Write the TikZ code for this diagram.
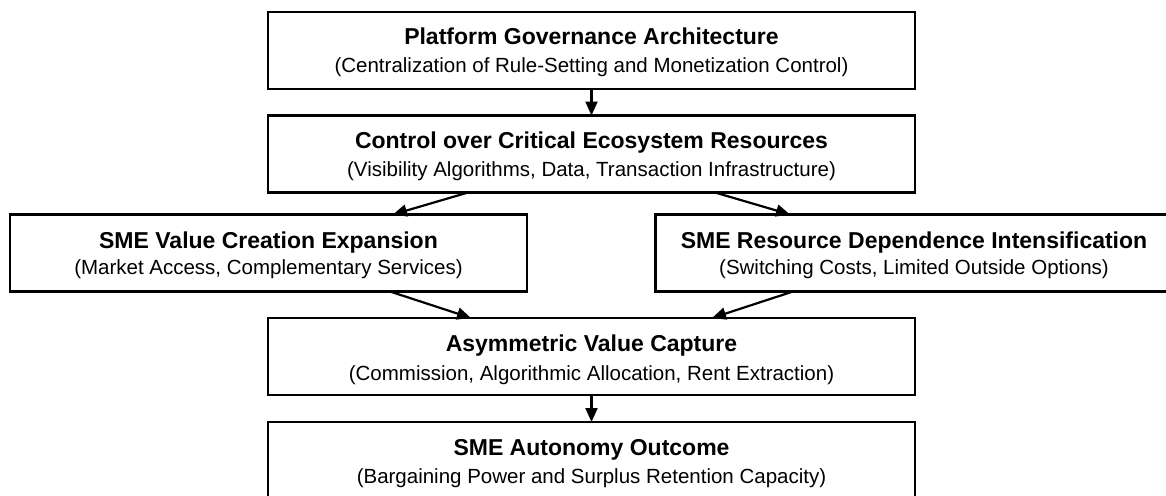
\documentclass[tikz,border=0pt]{standalone}
\usepackage{fontspec}
\setmainfont{Liberation Sans}
\usetikzlibrary{arrows.meta,calc}
\begin{document}
\begin{tikzpicture}[x=1pt,y=-1pt,
  box/.style={draw=black,line width=2.8pt,minimum height=77pt,inner sep=0pt,outer sep=0pt},
  wide/.style={box,minimum width=647pt},
  side/.style={box,minimum width=517pt},
  ttl/.style={anchor=base,inner sep=0pt,font=\fontsize{23}{27}\selectfont\bfseries},
  sub/.style={anchor=base,inner sep=0pt,font=\fontsize{20.5}{24}\selectfont},
  arr/.style={line width=2.2pt,-{Triangle[length=14pt,width=12pt]}}]
\useasboundingbox (0,0) rectangle (1166,495);
\clip (0,0) rectangle (1166,495);
% boxes
\node[wide] (b1) at (591.5,50.5) {};
\node[wide] (b2) at (591.5,154) {};
\node[side] (b3) at (268.5,253) {};
\node[side] (b4) at (914,253) {};
\node[wide] (b5) at (591.5,356.5) {};
\node[wide] (b6) at (591.5,460.5) {};
% texts
\node[ttl] (t1) at ($(b1.north)+(0,33)$) {Platform Governance Architecture};
\node[sub] (s1) at ($(b1.north)+(0,61)$) {(Centralization of Rule-Setting and Monetization Control)};
\node[ttl] (t2) at ($(b2.north)+(0,33)$) {Control over Critical Ecosystem Resources};
\node[sub] (s2) at ($(b2.north)+(0,61)$) {(Visibility Algorithms, Data, Transaction Infrastructure)};
\node[ttl] (t3) at ($(b3.north)+(0,34)$) {SME Value Creation Expansion};
\node[sub] (s3) at ($(b3.north)+(0,60)$) {(Market Access, Complementary Services)};
\node[ttl] (t4) at ($(b4.north)+(0,34)$) {SME Resource Dependence Intensification};
\node[sub] (s4) at ($(b4.north)+(0,60)$) {(Switching Costs, Limited Outside Options)};
\node[ttl] (t5) at ($(b5.north)+(0,33)$) {Asymmetric Value Capture};
\node[sub] (s5) at ($(b5.north)+(0,62)$) {(Commission, Algorithmic Allocation, Rent Extraction)};
\node[ttl] (t6) at ($(b6.north)+(0,33)$) {SME Autonomy Outcome};
\node[sub] (s6) at ($(b6.north)+(0,61)$) {(Bargaining Power and Surplus Retention Capacity)};
% arrows
\draw[arr] (b1.south) -- (b2.north);
\draw[arr] ($(b2.south)+(-123.5,0)$) -- ($(b3.north)+(124.5,0)$);
\draw[arr] ($(b2.south)+(123.5,0)$) -- ($(b4.north)+(-124,0)$);
\draw[arr] ($(b3.south)+(121.5,0)$) -- ($(b5.north)+(-120.5,0)$);
\draw[arr] ($(b4.south)+(-121,0)$) -- ($(b5.north)+(120.5,0)$);
\draw[arr] (b5.south) -- (b6.north);
\end{tikzpicture}
\end{document}
